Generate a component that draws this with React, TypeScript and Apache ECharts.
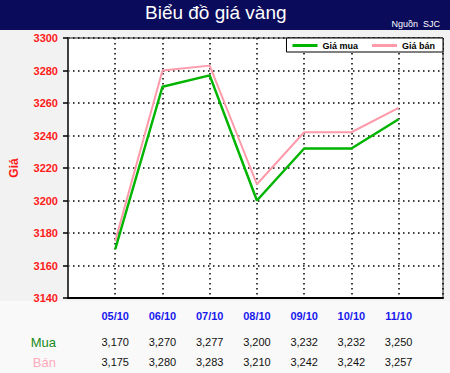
import React, { useEffect, useRef } from 'react';
import * as echarts from 'echarts';

const categories = ['05/10', '06/10', '07/10', '08/10', '09/10', '10/10', '11/10'];
const buyValues = [3170, 3270, 3277, 3200, 3232, 3232, 3250];
const sellValues = [3175, 3280, 3283, 3210, 3242, 3242, 3257];
const yMin = 3140;
const yMax = 3300;
const yStep = 20;
const seriesNames = ['Giá mua', 'Giá bán'];
const rowNames = ['Mua', 'Bán'];

const FONT = 'Liberation Sans, Arial, sans-serif';
const X_MIN = -1;
const X_MAX = 6.94;

const fmtCat = (v: number) => (Number.isInteger(v) && v >= 0 && v < categories.length ? categories[v] : '');
const fmtNum = (arr: number[]) => (v: number) =>
  Number.isInteger(v) && v >= 0 && v < arr.length ? arr[v].toLocaleString('en-US') : '';

export default function App() {
  const ref = useRef<HTMLDivElement>(null);
  useEffect(() => {
    if (!ref.current) return;
    const chart = echarts.init(ref.current, null, { renderer: 'svg' });
    const rowAxis = (arr: number[], name: string, color: string, offset: number) => ({
      type: 'value',
      gridIndex: 0,
      position: 'bottom',
      offset,
      min: X_MIN,
      max: X_MAX,
      interval: 1,
      axisLine: { show: false, onZero: false },
      axisTick: { show: false },
      splitLine: { show: false },
      axisLabel: {
        formatter: fmtNum(arr),
        color: '#111',
        fontSize: 11,
        fontFamily: FONT,
        margin: 0,
        verticalAlign: 'middle',
      },
      name,
      nameLocation: 'start',
      nameGap: 12,
      nameTextStyle: { color, fontSize: 13, fontFamily: FONT },
    });
    chart.setOption({
      animation: false,
      backgroundColor: '#f2f2f2',
      graphic: [
        { type: 'rect', shape: { x: 0, y: 0, width: 450, height: 30 }, style: { fill: '#0b0b5c' }, z: -1 },
        { type: 'rect', shape: { x: 0, y: 301, width: 450, height: 72 }, style: { fill: '#f9f9f9' }, z: -1 },
      ],
      title: [
        {
          text: 'Biểu đồ giá vàng',
          left: 145,
          top: 3,
          textStyle: { color: '#ffffff', fontSize: 19, fontWeight: 'normal', fontFamily: FONT },
          padding: 0,
        },
        {
          text: 'Nguồn  SJC',
          right: 10,
          top: 19,
          textStyle: { color: '#ffffff', fontSize: 9, fontWeight: 'normal', fontFamily: FONT },
          padding: 0,
        },
      ],
      legend: {
        data: seriesNames,
        top: 38,
        right: 7,
        orient: 'horizontal',
        backgroundColor: '#ffffff',
        borderColor: '#000',
        borderWidth: 1,
        borderRadius: 0,
        padding: [3, 8, 2, 6],
        itemGap: 14,
        itemWidth: 25,
        itemHeight: 3,
        icon: 'rect',
        textStyle: { color: '#000', fontSize: 9, fontWeight: 'bold', fontFamily: FONT },
      },
      grid: {
        left: 62,
        top: 38,
        right: 7,
        bottom: 75,
        show: true,
        backgroundColor: '#ffffff',
        borderColor: '#222',
        borderWidth: 1,
      },
      xAxis: [
        {
          type: 'value',
          gridIndex: 0,
          position: 'bottom',
          min: X_MIN,
          max: X_MAX,
          interval: 1,
          axisLine: { show: true, onZero: false, lineStyle: { color: '#000', width: 2 } },
          axisTick: { show: false },
          splitLine: { show: true, lineStyle: { color: '#000', width: 1.5, type: [1.5, 3.5] } },
          axisLabel: {
            formatter: fmtCat,
            color: '#1a1aee',
            fontSize: 11,
            fontWeight: 'bold',
            fontFamily: FONT,
            margin: 12,
          },
        },
        rowAxis(buyValues, rowNames[0], '#1a8a1a', 44),
        rowAxis(sellValues, rowNames[1], '#ffaabb', 64),
      ],
      yAxis: {
        type: 'value',
        min: yMin,
        max: yMax,
        interval: yStep,
        name: 'Giá',
        nameLocation: 'middle',
        nameRotate: 90,
        nameGap: 48,
        nameTextStyle: { color: '#ff1a1a', fontSize: 12, fontWeight: 'bold', fontFamily: FONT },
        axisLine: { show: true, onZero: false, lineStyle: { color: '#404040', width: 2 } },
        axisTick: { show: true, length: 5, lineStyle: { color: '#000', width: 1.5 } },
        splitLine: { show: true, lineStyle: { color: '#000', width: 1.5, type: [1.5, 3.5] } },
        axisLabel: {
          formatter: (v: number) => String(v),
          color: '#ff1a1a',
          fontSize: 11,
          fontWeight: 'bold',
          fontFamily: FONT,
          margin: 10,
        },
      },
      series: [
        {
          name: seriesNames[1],
          type: 'line',
          xAxisIndex: 0,
          data: sellValues.map((v, i) => [i, v]),
          symbol: 'none',
          lineStyle: { color: '#ff9aaa', width: 2 },
          itemStyle: { color: '#ff9aaa' },
        },
        {
          name: seriesNames[0],
          type: 'line',
          xAxisIndex: 0,
          data: buyValues.map((v, i) => [i, v]),
          symbol: 'none',
          lineStyle: { color: '#00b400', width: 2.5 },
          itemStyle: { color: '#00b400' },
        },
      ],
    });
    return () => chart.dispose();
  }, []);
  return <div ref={ref} style={{ position: 'fixed', left: 0, top: 0, width: 450, height: 373 }} />;
}
